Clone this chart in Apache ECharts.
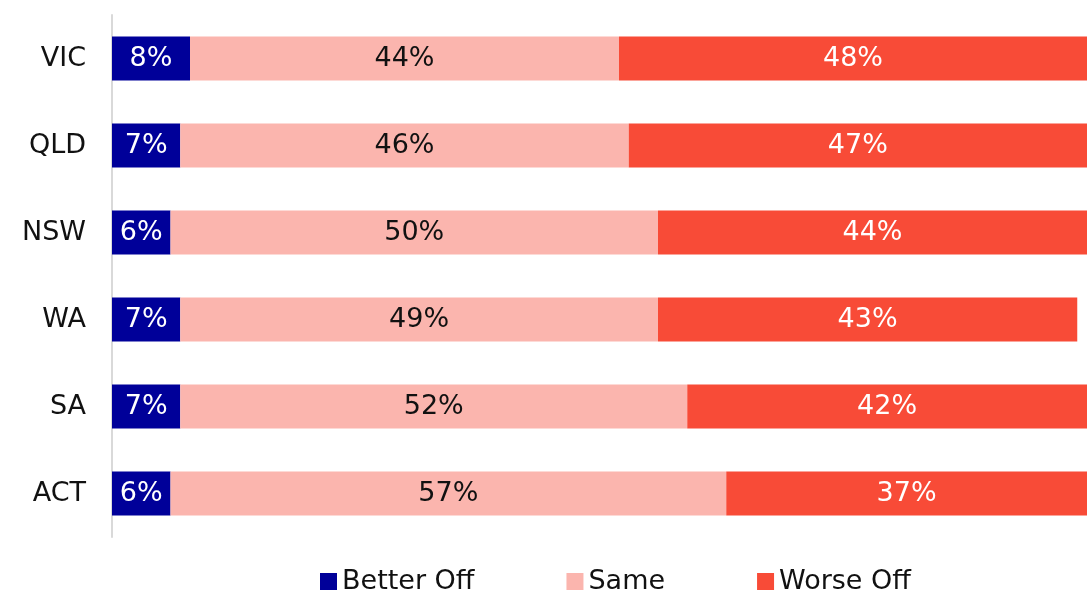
<!DOCTYPE html>
<html>
<head>
<meta charset="utf-8">
<script src="https://cdn.jsdelivr.net/npm/echarts@6/dist/echarts.min.js"></script>
<style>
  html, body { margin: 0; padding: 0; background: #ffffff; }
  #chart { width: 1087px; height: 591px; }
</style>
</head>
<body>
<div id="chart"></div>
<script>
// States, top to bottom as drawn
const states = ['VIC', 'QLD', 'NSW', 'WA', 'SA', 'ACT'];
// Share of respondents (%) per state
const betterOff = [8, 7, 6, 7, 7, 6];
const same = [44, 46, 50, 49, 52, 57];
const worseOff = [48, 47, 44, 43, 42, 37];

const FONT = 'DejaVu Sans';
const SIZE = 27;

const chart = echarts.init(document.getElementById('chart'), null, { renderer: 'canvas' });

function barSeries(name, data, color, labelColor) {
  return {
    name: name,
    type: 'bar',
    stack: 'total',
    data: data,
    barWidth: 44,
    itemStyle: { color: color },
    label: {
      show: true,
      position: 'inside',
      formatter: '{c}%',
      color: labelColor,
      fontFamily: FONT,
      fontSize: SIZE
    }
  };
}

chart.setOption({
  animation: false,
  backgroundColor: '#ffffff',
  textStyle: { fontFamily: FONT },
  grid: { left: 112, right: 0, top: 15, bottom: 54, containLabel: false },
  legend: {
    top: 563,
    left: 315,
    itemWidth: 17,
    itemHeight: 17,
    itemGap: 92,
    icon: 'rect',
    textStyle: { fontFamily: FONT, fontSize: SIZE, color: '#111111' },
    data: ['Better Off', 'Same', 'Worse Off']
  },
  xAxis: {
    type: 'value',
    min: 0,
    max: 100,
    show: false
  },
  yAxis: {
    type: 'category',
    data: states,
    inverse: true,
    axisLine: { show: true, lineStyle: { color: '#d9d9d9', width: 2 } },
    axisTick: { show: false },
    axisLabel: { fontFamily: FONT, fontSize: SIZE, color: '#111111', margin: 26 }
  },
  series: [
    barSeries('Better Off', betterOff, '#000099', '#ffffff'),
    barSeries('Same', same, '#fbb5ae', '#111111'),
    barSeries('Worse Off', worseOff, '#f84b37', '#ffffff')
  ]
});
</script>
</body>
</html>
